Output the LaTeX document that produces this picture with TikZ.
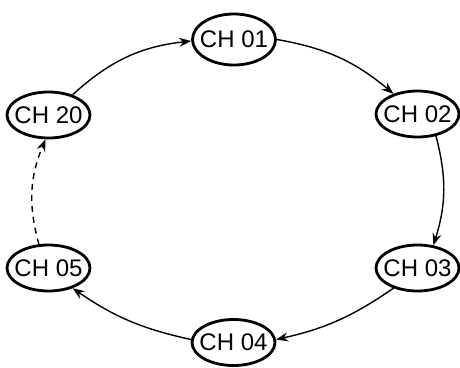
\documentclass[tikz,border=0pt]{standalone}
\usepackage{fontspec}
\setmainfont{Liberation Sans}
\usetikzlibrary{arrows.meta,shapes.geometric}
\newcommand{\chtext}[1]{\makebox[0pt]{#1}}
\begin{document}
\begin{tikzpicture}[x=1pt,y=-1pt,
  ch/.style={ellipse,draw,line width=2.8pt,minimum width=83pt,minimum height=46pt,inner sep=0pt,
    font=\fontsize{24}{29}\selectfont},
  link/.style={line width=1.4pt,-{Stealth[length=12pt,width=9pt,inset=4pt]}},
  dashlink/.style={link,dash pattern=on 6pt off 5pt}]
\useasboundingbox (0,0) rectangle (460,367);
\node[ch,minimum height=51pt] (n01) at (234,39.5) {\chtext{CH 01}};
\node[ch] (n02) at (417.5,114) {\chtext{CH 02}};
\node[ch] (n03) at (417.5,268) {\chtext{CH 03}};
\node[ch] (n04) at (233.5,342.5) {\chtext{CH 04}};
\node[ch] (n05) at (48.5,268) {\chtext{CH 05}};
\node[ch] (n20) at (48.5,115) {\chtext{CH 20}};
\draw[link] (n20.40) to[bend left=18] (n01.182);
\draw[link] (n01.0) to[bend left=15] (n02.140);
\draw[link] (n02.-50) to[bend left=16] (n03.55);
\draw[link] (n03.220) to[bend left=11] (n04.4);
\draw[link] (n04.176) to[bend left=11] (n05.-40);
\draw[dashlink] (n05.112) to[bend left=19] (n20.263);
\end{tikzpicture}
\end{document}
